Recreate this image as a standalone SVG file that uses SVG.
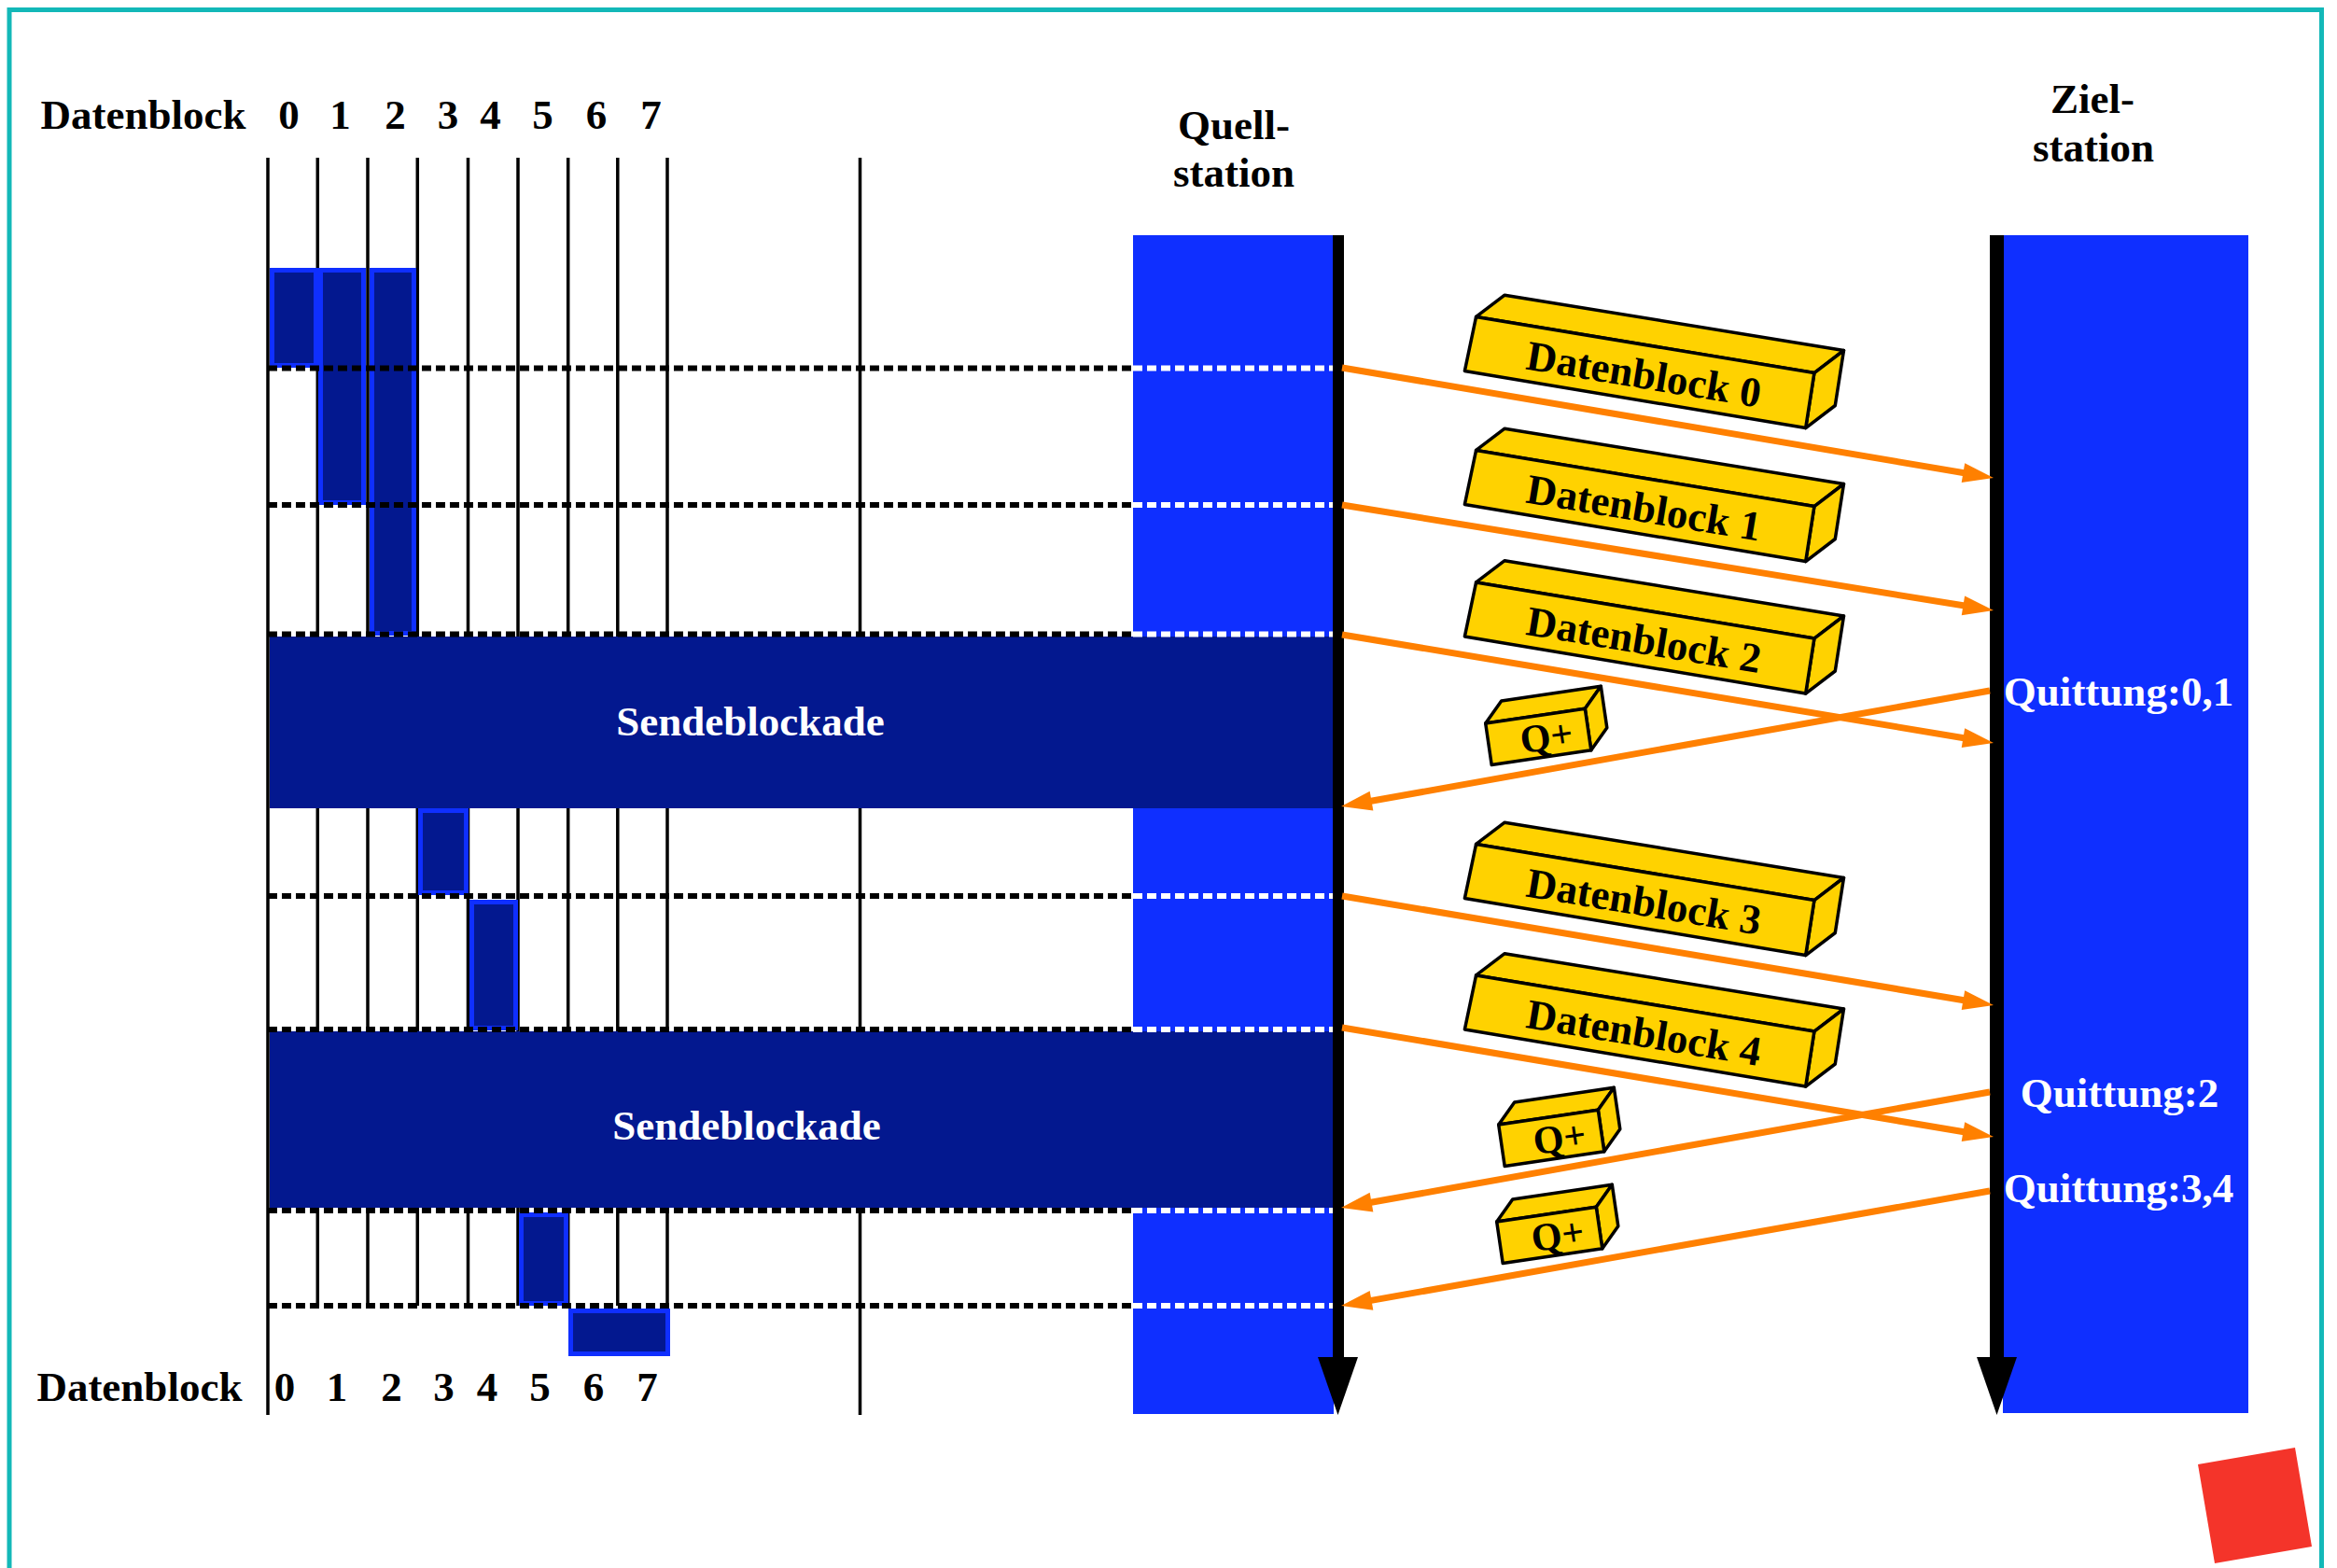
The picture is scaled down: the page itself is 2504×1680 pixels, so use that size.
<svg xmlns="http://www.w3.org/2000/svg" width="2504" height="1680" viewBox="0 0 2504 1680">
  <defs>
    <style>
      .lbl{font-family:"Liberation Serif","Times New Roman",serif;font-weight:bold;font-size:45px;fill:#000}
      .w{fill:#fff}
      .mid{text-anchor:middle}
      .grid{stroke:#000;stroke-width:3.5;fill:none}
      .band{fill:#0F2FFF}
      .bar{fill:#03188F}
      .blk{fill:#03188F;stroke:#0F2FFF;stroke-width:5}
      .dash{stroke:#000;stroke-width:6;stroke-dasharray:10 5;fill:none}
      .dashw{stroke:#fff;stroke-width:6;stroke-dasharray:10 5;fill:none}
      .axis{fill:#000}
      .msg{stroke:#FF8000;stroke-width:7;fill:none;marker-end:url(#ah)}
      .face{fill:#FFD200;stroke:#000;stroke-width:3.5;stroke-linejoin:round}
    </style>
    <marker id="ah" markerUnits="userSpaceOnUse" orient="auto" refX="19" refY="0" markerWidth="40" markerHeight="30" overflow="visible">
      <path d="M0,-10.5 L33,0 L0,10.5 Z" fill="#FF8000"/>
    </marker>
    <!-- long yellow slab (data block packet) -->
    <g id="slab">
      <polygon class="face" points="1581.6,339.4 1612.2,316.2 1975.5,375.5 1943.9,399.6"/>
      <polygon class="face" points="1943.9,399.6 1975.5,375.5 1966.3,434.5 1934.7,458.6"/>
      <polygon class="face" points="1581.6,339.4 1943.9,399.6 1934.7,458.6 1569.4,397.4"/>
    </g>
    <!-- small yellow cube (acknowledgement packet) -->
    <g id="cube">
      <polygon class="face" points="1591.7,775 1608.7,751 1715.3,735.3 1698.3,759.3"/>
      <polygon class="face" points="1698.3,759.3 1715.3,735.3 1721.8,779.8 1704.8,803.8"/>
      <polygon class="face" points="1591.7,775 1698.3,759.3 1704.8,803.8 1598.2,819.5"/>
    </g>
  </defs>

  <rect x="0" y="0" width="2504" height="1680" fill="#fff"/>
  <!-- frame, open at the bottom -->
  <rect x="10" y="10.5" width="2477.5" height="1720" fill="none" stroke="#13B8B8" stroke-width="5"/>

  <!-- station bands -->
  <g id="quellstation">
    <rect class="band" x="1214" y="252" width="215" height="1263"/>
    <text class="lbl mid" x="1322" y="149">Quell-</text>
    <text class="lbl mid" x="1322" y="200">station</text>
  </g>
  <g id="zielstation">
    <rect class="band" x="2146" y="252" width="263" height="1262"/>
    <text class="lbl mid" x="2242" y="121">Ziel-</text>
    <text class="lbl mid" x="2243" y="173">station</text>
  </g>

  <!-- window grid: outer lines run full height, inner ones stop at the last mark -->
  <g id="grid">
    <line class="grid" x1="287" y1="169" x2="287" y2="1516"/>
    <line class="grid" x1="340.3" y1="169" x2="340.3" y2="1399"/>
    <line class="grid" x1="394" y1="169" x2="394" y2="1399"/>
    <line class="grid" x1="447.3" y1="169" x2="447.3" y2="1399"/>
    <line class="grid" x1="501.5" y1="169" x2="501.5" y2="1399"/>
    <line class="grid" x1="555" y1="169" x2="555" y2="1399"/>
    <line class="grid" x1="608.7" y1="169" x2="608.7" y2="1399"/>
    <line class="grid" x1="661.8" y1="169" x2="661.8" y2="1399"/>
    <line class="grid" x1="715" y1="169" x2="715" y2="1399"/>
    <line class="grid" x1="921.5" y1="169" x2="921.5" y2="1516"/>
  </g>

  <!-- send blockades -->
  <g id="sendeblockade-1">
    <rect class="bar" x="289" y="682" width="1140" height="184"/>
    <text class="lbl w mid" x="804" y="788">Sendeblockade</text>
  </g>
  <g id="sendeblockade-2">
    <rect class="bar" x="289" y="1105" width="1140" height="189"/>
    <text class="lbl w mid" x="800" y="1221">Sendeblockade</text>
  </g>

  <!-- buffered blocks -->
  <g id="blocks">
    <rect class="blk" x="291.5" y="289.5" width="47" height="102"/>
    <rect class="blk" x="343.5" y="289.5" width="46" height="249"/>
    <rect class="blk" x="398.5" y="289.5" width="45" height="389"/>
    <rect class="blk" x="450.5" y="868.5" width="49" height="88"/>
    <rect class="blk" x="505.5" y="966.5" width="47" height="135"/>
    <rect class="blk" x="558.5" y="1301.5" width="48" height="95"/>
    <rect class="blk" x="611.5" y="1404.5" width="104" height="46"/>
  </g>

  <!-- time marks -->
  <g id="timemarks">
    <path class="dash" d="M287,394.5H1214M287,541H1214M287,679.5H1214M287,960H1214M287,1103H1214M287,1297H1214M287,1399H1214"/>
    <path class="dashw" d="M1214,394.5H1436M1214,541H1436M1214,679.5H1436M1214,960H1436M1214,1103H1436M1214,1297H1436M1214,1399H1436"/>
  </g>

  <!-- time axes -->
  <g id="axes">
    <rect class="axis" x="1428" y="252" width="12" height="1205"/>
    <polygon class="axis" points="1412,1454 1455,1454 1433.5,1516"/>
    <rect class="axis" x="2132" y="252" width="15" height="1205"/>
    <polygon class="axis" points="2118,1454 2161,1454 2139.5,1516"/>
  </g>

  <!-- messages -->
  <g id="connectors">
    <line class="msg" x1="1438" y1="394" x2="2122.2" y2="509.7"/>
    <line class="msg" x1="1438" y1="541" x2="2122.2" y2="651.8"/>
    <line class="msg" x1="1438" y1="680" x2="2122.2" y2="793.7"/>
    <line class="msg" x1="1438" y1="960" x2="2122.2" y2="1074.7"/>
    <line class="msg" x1="1438" y1="1101" x2="2122.2" y2="1215.7"/>
    <line class="msg" x1="2132" y1="740" x2="1450.8" y2="861.5"/>
    <line class="msg" x1="2132" y1="1170" x2="1450.8" y2="1291.5"/>
    <line class="msg" x1="2132" y1="1276" x2="1450.8" y2="1396.6"/>
  </g>

  <!-- packets -->
  <g id="datenblock-0">
    <use href="#slab"/>
    <text class="lbl mid" transform="translate(1759,416) rotate(9.4)">Datenblock 0</text>
  </g>
  <g id="datenblock-1">
    <use href="#slab" y="143"/>
    <text class="lbl mid" transform="translate(1759,559) rotate(9.4)">Datenblock 1</text>
  </g>
  <g id="datenblock-2">
    <use href="#slab" y="284.5"/>
    <text class="lbl mid" transform="translate(1759,700.5) rotate(9.4)">Datenblock 2</text>
  </g>
  <g id="datenblock-3">
    <use href="#slab" y="565"/>
    <text class="lbl mid" transform="translate(1759,981) rotate(9.4)">Datenblock 3</text>
  </g>
  <g id="datenblock-4">
    <use href="#slab" y="705.5"/>
    <text class="lbl mid" transform="translate(1759,1121.5) rotate(9.4)">Datenblock 4</text>
  </g>
  <g id="quittung-paket-1">
    <use href="#cube"/>
    <text class="lbl mid" style="font-size:42px" transform="translate(1659,803) rotate(-8.4)">Q+</text>
  </g>
  <g id="quittung-paket-2">
    <use href="#cube" x="14" y="430"/>
    <text class="lbl mid" style="font-size:42px" transform="translate(1673,1233) rotate(-8.4)">Q+</text>
  </g>
  <g id="quittung-paket-3">
    <use href="#cube" x="12" y="534"/>
    <text class="lbl mid" style="font-size:42px" transform="translate(1671,1337) rotate(-8.4)">Q+</text>
  </g>

  <!-- acknowledgement labels -->
  <g id="quittungen">
    <text class="lbl w mid" x="2270" y="756">Quittung:0,1</text>
    <text class="lbl w mid" x="2271" y="1186">Quittung:2</text>
    <text class="lbl w mid" x="2270" y="1288">Quittung:3,4</text>
  </g>

  <!-- column headings -->
  <g id="kopf-oben">
    <text class="lbl" x="43.6" y="138">Datenblock</text>
    <text class="lbl mid" x="309.5" y="138">0</text>
    <text class="lbl mid" x="364.5" y="138">1</text>
    <text class="lbl mid" x="423.5" y="138">2</text>
    <text class="lbl mid" x="480" y="138">3</text>
    <text class="lbl mid" x="525.5" y="138">4</text>
    <text class="lbl mid" x="581.5" y="138">5</text>
    <text class="lbl mid" x="639" y="138">6</text>
    <text class="lbl mid" x="697.5" y="138">7</text>
  </g>
  <g id="kopf-unten">
    <text class="lbl" x="39.4" y="1501">Datenblock</text>
    <text class="lbl mid" x="305" y="1501">0</text>
    <text class="lbl mid" x="361" y="1501">1</text>
    <text class="lbl mid" x="419.5" y="1501">2</text>
    <text class="lbl mid" x="475.5" y="1501">3</text>
    <text class="lbl mid" x="522" y="1501">4</text>
    <text class="lbl mid" x="578.5" y="1501">5</text>
    <text class="lbl mid" x="636" y="1501">6</text>
    <text class="lbl mid" x="693.5" y="1501">7</text>
  </g>

  <!-- corner mark -->
  <polygon id="eckmarke" points="2355,1569 2459,1551 2477,1657 2373,1675" fill="#F4342A"/>
</svg>
